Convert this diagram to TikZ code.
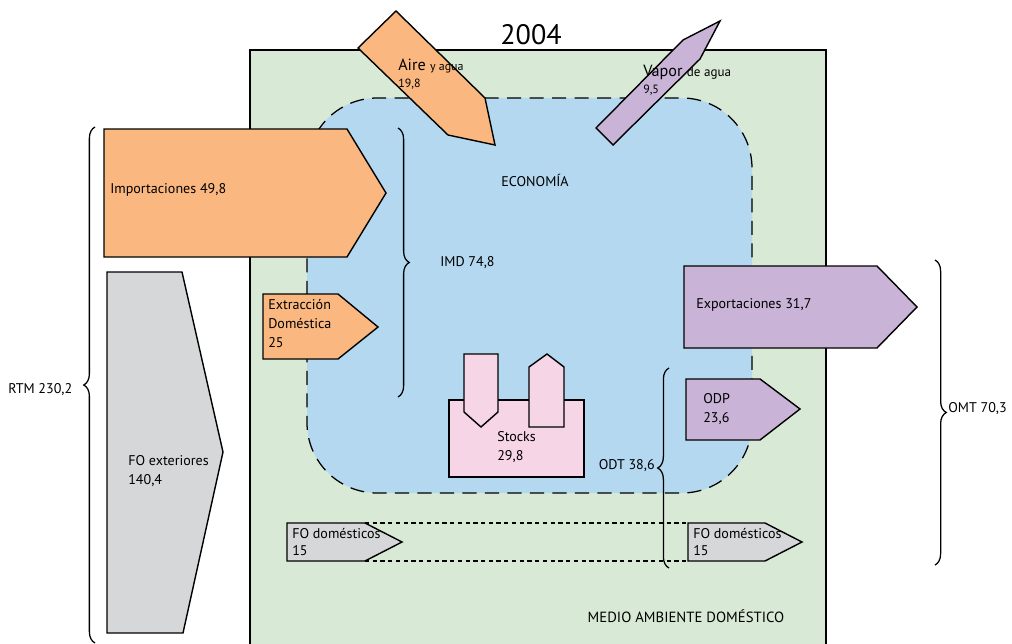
\documentclass[tikz,border=0pt]{standalone}
\usepackage{fontspec}
\setmainfont{PT Sans}
\usetikzlibrary{positioning,decorations.pathreplacing}
\definecolor{medio}{HTML}{D8EAD6}
\definecolor{econ}{HTML}{B3D8F0}
\definecolor{entrada}{HTML}{FAB880}
\definecolor{salida}{HTML}{C9B3D7}
\definecolor{oculto}{HTML}{D6D7D9}
\definecolor{stock}{HTML}{F5D5E6}
\tikzset{
    flecha/.style={draw, line width=1pt, line join=miter},
    etiq/.style={
        font=\fontsize{10}{13.2}\selectfont,
        inner sep=0pt,
        align=left,
        anchor=west
    },
    llave/.style={
        draw,
        line width=0.9pt,
        decorate,
        decoration={brace, amplitude=8pt}
    }
}

\begin{document}
\begin{tikzpicture}[x=0.025cm, y=-0.025cm]
\useasboundingbox (0,0) rectangle (1012,644);

% medio ambiente
\fill[medio] (250,50) rectangle (826,644);
\draw[line width=0.9pt] (250,644) -- (250,50) -- (826,50) -- (826,644);
\node[font=\fontsize{20}{22}\selectfont] (anio) at (531,35) {2004};

% economia
\draw[dash pattern=on 10pt off 6pt, fill=econ, rounded corners=50pt, line width=0.9pt]
    (307,98) rectangle (752,493);
\node[etiq, anchor=center] (econ) at (535,180) {ECONOMÍA};
\node[etiq, anchor=center, font=\fontsize{10.5}{12}\selectfont] (medio) at (686,616)
    {MEDIO AMBIENTE DOMÉSTICO};

% entradas
\draw[flecha, fill=entrada] (396,11) -- (358,48) -- (448,135) -- (495,145) -- (485,98) -- cycle;
\node[etiq] (aire) at (398,66)
    {\fontsize{11.5}{13}\selectfont Aire \fontsize{8.5}{10}\selectfont y agua};
\node[etiq, font=\fontsize{8.5}{10}\selectfont] (aireval) at (398,84) {19,8};

\draw[flecha, fill=entrada] (104,129) -- (347,129) -- (386,193) -- (347,257) -- (104,257) -- cycle;
\node[etiq] (imp) at (110,190) {Importaciones 49,8};

\draw[flecha, fill=oculto] (107,272) -- (182,272) -- (223,452) -- (183,633) -- (107,633) -- cycle;
\node[etiq] (foext) at (128,471) {FO exteriores\\140,4};

\draw[flecha, fill=entrada] (263,294) -- (338,294) -- (378,327) -- (338,359) -- (263,359) -- cycle;
\node[etiq, font=\fontsize{10}{13.5}\selectfont] (extr) at (268,324) {Extracción\\Doméstica\\25};

% salidas
\draw[flecha, fill=salida] (720,21) -- (683,40) -- (596,128) -- (613,145) -- (700,59) -- cycle;
\node[etiq] (vapor) at (643,72)
    {\fontsize{11.5}{13}\selectfont Vapor \fontsize{9.3}{10}\selectfont de agua};
\node[etiq, font=\fontsize{8.5}{10}\selectfont] (vaporval) at (643,90) {9,5};

\draw[flecha, fill=salida] (684,266) -- (877,266) -- (917,307) -- (877,348) -- (684,348) -- cycle;
\node[etiq] (exp) at (696,305) {Exportaciones 31,7};

\draw[flecha, fill=salida] (686,379) -- (760,379) -- (800,409) -- (760,440) -- (686,440) -- cycle;
\node[etiq] (odp) at (703,409) {ODP\\23,6};

% stocks
\draw[flecha, fill=stock] (449,400) rectangle (584,477);
\draw[flecha, fill=stock] (464,354) -- (498,354) -- (498,412) -- (481,427) -- (464,412) -- cycle;
\draw[flecha, fill=stock] (529,427) -- (529,367) -- (547,354) -- (564,367) -- (564,427) -- cycle;
\node[etiq] (stocks) at (497,447) {Stocks\\29,8};

% flujos ocultos domesticos
\draw[dash pattern=on 3pt off 2.5pt, line width=0.9pt] (365,523) -- (688,523);
\draw[dash pattern=on 3pt off 2.5pt, line width=0.9pt] (365,561) -- (688,561);
\draw[flecha, fill=oculto] (287,523) -- (365,523) -- (402,542) -- (365,561) -- (287,561) -- cycle;
\node[etiq, font=\fontsize{10}{12}\selectfont] (fodom1) at (292,542) {FO domésticos\\15};
\draw[flecha, fill=oculto] (688,523) -- (765,523) -- (802,542) -- (765,561) -- (688,561) -- cycle;
\node[etiq, font=\fontsize{10}{12}\selectfont] (fodom2) at (693,542) {FO domésticos\\15};

% llaves
\draw[llave] (95,643) -- (95,127);
\node[etiq] (rtm) at (8,390) {RTM 230,2};
\draw[llave] (398,128) -- (398,397);
\node[etiq] (imd) at (440,263) {IMD 74,8};
\draw[llave] (935,260) -- (935,565);
\node[etiq] (omt) at (948,409) {OMT 70,3};
\draw[llave] (669,568) -- (669,368);
\node[etiq, anchor=east] (odt) at (655,466) {ODT 38,6};

\end{tikzpicture}
\end{document}
